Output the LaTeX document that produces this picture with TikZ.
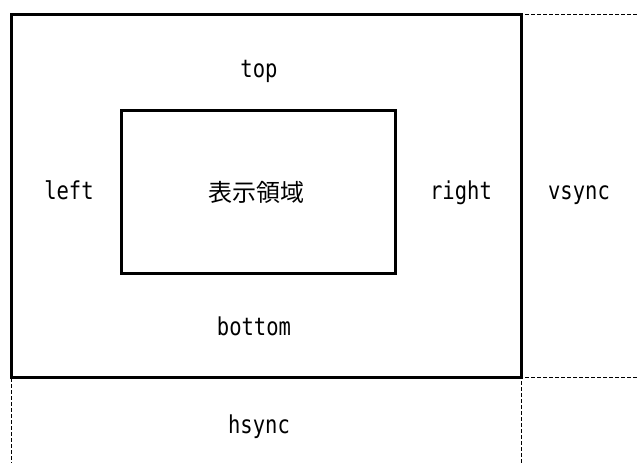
\documentclass[tikz,border=0pt]{standalone}
\usepackage{fontspec}
\setmonofont{DejaVu Sans Mono}
\newfontfamily\jpfont{Noto Sans CJK JP}
\begin{document}
\begin{tikzpicture}[x=1pt,y=-1pt,
  solidbox/.style={draw=black,line width=3pt},
  guide/.style={draw=black,line width=1pt,dash pattern=on 4pt off 2pt},
  lbl/.style={font=\ttfamily\fontsize{20.5}{24}\selectfont,anchor=base,inner sep=0pt,yscale=1.2,transform shape},
  jlbl/.style={font=\jpfont\fontsize{24}{28}\selectfont,anchor=base,inner sep=0pt}]
\useasboundingbox (0,0) rectangle (637,463);
% dashed guides
\coordinate (tl) at (11,14);
\coordinate (tr) at (637,14);
\coordinate (bl) at (11,463);
\coordinate (rc) at (521,377);
\coordinate (re) at (637,377);
\coordinate (rb) at (521,463);
\draw[guide] (tr) -- (tl) -- (bl);
\draw[guide] (re) -- (rc) -- (rb);
% rectangles
\draw[solidbox] (11,14) rectangle (521,377);
\draw[solidbox] (121,110) rectangle (395,273);
% labels
\node[lbl] (top) at (259,77) {top};
\node[lbl] (left) at (69,199) {left};
\node[lbl] (right) at (461,199) {right};
\node[lbl] (vsync) at (579,199) {vsync};
\node[lbl] (bottom) at (254,335) {bottom};
\node[lbl] (hsync) at (259,433) {hsync};
\node[jlbl] (area) at (256,201) {表示領域};
\end{tikzpicture}
\end{document}
